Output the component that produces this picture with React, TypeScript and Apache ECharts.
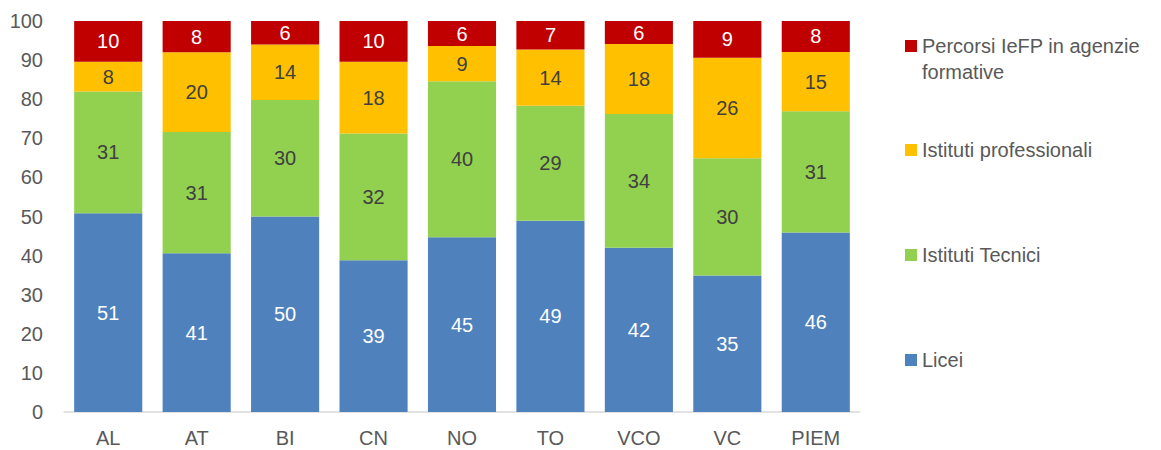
import React, { useEffect, useRef } from "react";
import * as echarts from "echarts";

const categories = ["AL", "AT", "BI", "CN", "NO", "TO", "VCO", "VC", "PIEM"];
const licei = [50.8, 40.6, 50.0, 38.8, 44.7, 48.9, 42.0, 34.9, 45.9];
const tecnici = [31.2, 31.0, 29.8, 32.4, 39.9, 29.4, 34.2, 30.0, 31.0];
const professionali = [7.6, 20.4, 14.2, 18.4, 9.0, 14.4, 17.9, 25.7, 15.2];
const iefp = [10.4, 8.0, 6.0, 10.4, 6.4, 7.3, 5.9, 9.4, 7.9];
const yTicks = [0, 10, 20, 30, 40, 50, 60, 70, 80, 90, 100];
const seriesNames = ["Licei", "Istituti Tecnici", "Istituti professionali", "Percorsi IeFP in agenzie formative"];

const FONT = "'Liberation Sans', Arial, sans-serif";
const GREY = "#595959";
const FS = 20;

export default function App() {
  const ref = useRef<HTMLDivElement>(null);
  useEffect(() => {
    if (!ref.current) return;
    document.body.style.margin = "0";
    const chart = echarts.init(ref.current, undefined, { renderer: "svg" });
    const mk = (name: string, data: number[], color: string, textColor: string) => ({
      name,
      type: "bar",
      stack: "total",
      data,
      barWidth: "77%",
      itemStyle: { color },
      label: {
        show: true,
        position: "inside",
        color: textColor,
        fontSize: FS,
        fontFamily: FONT,
        formatter: (p: any) => String(Math.round(p.value)),
      },
    });
    const legendBase = (name: string, top: number, label?: string) => ({
      data: [name],
      orient: "vertical",
      left: 900,
      top,
      itemWidth: 12,
      itemHeight: 12,
      icon: "rect",
      itemGap: 6,
      formatter: label ? () => label : undefined,
      textStyle: { fontSize: FS, color: GREY, fontFamily: FONT, lineHeight: 20 },
      selectedMode: false,
    });
    chart.setOption({
      animation: false,
      grid: { left: 64, right: 301, top: 21, bottom: 38 },
      legend: [
        legendBase(seriesNames[3], 31, "Percorsi IeFP in agenzie"),
        legendBase(seriesNames[2], 135),
        legendBase(seriesNames[1], 240),
        legendBase(seriesNames[0], 345),
      ],
      graphic: [
        {
          type: "text",
          left: 922,
          top: 62,
          style: { text: "formative", fontSize: FS, fill: GREY, fontFamily: FONT },
        },
      ],
      xAxis: {
        type: "category",
        data: categories,
        axisLine: { lineStyle: { color: "#D9D9D9", width: 1.5 } },
        axisTick: { show: false },
        axisLabel: { fontSize: FS, color: GREY, fontFamily: FONT, margin: 16 },
      },
      yAxis: {
        type: "value",
        min: yTicks[0],
        max: yTicks[yTicks.length - 1],
        interval: 10,
        splitLine: { show: false },
        axisLine: { show: false },
        axisLabel: { fontSize: FS, color: GREY, fontFamily: FONT, margin: 21 },
      },
      series: [
        mk(seriesNames[0], licei, "#4F81BD", "#FFFFFF"),
        mk(seriesNames[1], tecnici, "#92D050", "#404040"),
        mk(seriesNames[2], professionali, "#FFC000", "#404040"),
        mk(seriesNames[3], iefp, "#C00000", "#FFFFFF"),
      ],
    });
    return () => chart.dispose();
  }, []);
  return <div ref={ref} style={{ width: 1161, height: 450 }} />;
}
